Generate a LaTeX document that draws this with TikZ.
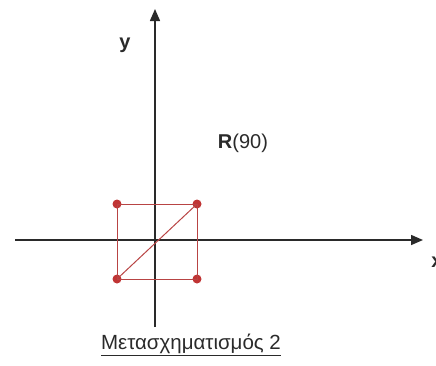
\documentclass[tikz,border=0pt]{standalone}
\usepackage{fontspec}
\setmainfont{Liberation Sans}
\usetikzlibrary{arrows.meta}
\definecolor{sqred}{HTML}{B84444}
\definecolor{dotred}{HTML}{C03434}
\definecolor{axisgray}{HTML}{2A2A2A}
\begin{document}
\begin{tikzpicture}[x=1pt,y=-1pt,
  axis/.style={draw=axisgray,line width=1.5pt,-{Triangle[length=12pt,width=10pt]}},
  sqline/.style={draw=sqred,line width=1pt},
  dot/.style={circle,fill=dotred,inner sep=0pt,minimum size=9pt},
  lbl/.style={font=\fontsize{20}{22}\selectfont,inner sep=0pt,text=axisgray}]
\useasboundingbox (0,0) rectangle (436,365);
\coordinate (xs) at (15,240);
\coordinate (xe) at (423,240);
\coordinate (ys) at (155,327);
\coordinate (ye) at (155,9);
\draw[axis] (xs) -- (xe);
\draw[axis] (ys) -- (ye);
\node[dot] (a) at (117,204) {};
\node[dot] (b) at (197,204) {};
\node[dot] (c) at (197,279) {};
\node[dot] (d) at (117,279) {};
\draw[sqline] (a.center) -- (b.center) -- (c.center) -- (d.center) -- cycle;
\draw[sqline] (d.center) -- (b.center);
\node[lbl] (ylab) at (125,45) {\textbf{y}};
\node[lbl] (xlab) at (437,262) {\textbf{x}};
\node[lbl] (rlab) at (243,143) {\textbf{R}(90)};
\node[font=\fontsize{20.5}{22}\selectfont,inner sep=0pt,text=axisgray] (cap) at (191,345) {\underline{Μετασχηματισμός 2}};
\end{tikzpicture}
\end{document}
